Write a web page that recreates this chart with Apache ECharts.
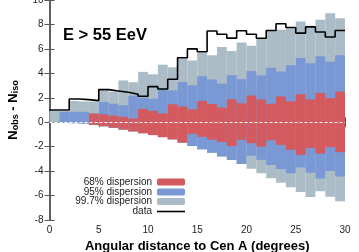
<!DOCTYPE html>
<html>
<head>
<meta charset="utf-8">
<script src="https://cdn.jsdelivr.net/npm/echarts@6/dist/echarts.min.js"></script>
<style>html,body{margin:0;padding:0;background:#fff}#c{width:359px;height:252px}</style>
</head>
<body>
<div id="c"></div>
<script>
// Bin edges (degrees)
const binStart = [0,1,2,3,4,5,6,7,8,9,10,11,12,13,14,15,16,17,18,19,20,21,22,23,24,25,26,27,28,29];
const binEnd   = [1,2,3,4,5,6,7,8,9,10,11,12,13,14,15,16,17,18,19,20,21,22,23,24,25,26,27,28,29,30];

// Observed N_obs - N_iso (step line)
const dataVals = [1.0,1.0,1.9,1.85,1.77,2.67,2.56,2.45,2.29,2.12,2.91,2.72,3.51,5.28,6.0,5.77,7.46,7.2,6.88,7.48,7.2,6.87,7.5,8.06,7.75,7.29,7.8,7.38,6.97,7.5];

// 68% dispersion band
const redHi = [null,null,null,null,0.71,0.65,0.54,0.44,0.3,1.09,0.93,0.71,1.47,1.29,1.05,1.74,1.49,1.2,1.88,1.55,2.19,1.86,1.5,2.11,1.71,2.29,1.86,2.39,1.97,2.5];
const redLo = [null,null,null,null,-0.22,-0.33,-0.45,-0.6,-0.75,-0.9,-1.05,-1.22,-1.4,-1.67,-0.95,-1.2,-1.43,-1.62,-1.95,-1.44,-1.72,-2.0,-1.48,-1.85,-2.25,-2.67,-2.12,-2.56,-2.04,-2.45];

// 95% dispersion band
const blueHi = [null,0.85,0.85,0.85,0.71,1.66,1.52,1.39,2.18,2.01,1.92,2.72,2.6,3.29,3.02,3.76,3.5,3.16,3.84,3.52,4.18,3.83,4.46,4.14,4.67,5.25,4.83,5.39,4.95,5.47];
const blueLo = [null,-0.04,-0.08,-0.12,-0.22,-0.33,-0.45,-0.6,-0.75,-0.9,-1.05,-1.22,-1.4,-1.67,-1.95,-2.22,-2.5,-2.8,-3.1,-3.42,-2.74,-3.08,-3.5,-3.82,-4.18,-3.7,-4.14,-4.6,-4.0,-4.45];

// 99.7% dispersion band
const greyHi = [0.92,0.92,1.74,1.7,1.7,2.6,2.5,3.42,3.27,4.12,3.92,4.71,4.49,5.2,5.06,5.69,5.47,6.15,5.82,6.53,6.25,6.85,7.46,7.56,7.68,8.25,7.9,8.38,8.92,8.5];
const greyLo = [-0.02,-0.04,-0.08,-0.12,-0.22,-0.33,-0.45,-0.6,-0.75,-0.9,-1.05,-1.22,-1.4,-1.67,-1.95,-2.22,-2.5,-2.8,-3.1,-3.42,-3.8,-4.17,-4.58,-4.95,-5.33,-5.7,-6.12,-5.65,-6.1,-6.47];

const xTicks = [0,5,10,15,20,25,30];
const yTicks = [-8,-6,-4,-2,0,2,4,6,8,10];

const FONT = "'Liberation Sans', Arial, sans-serif";
const C_RED = '#d35b5f', C_BLUE = '#7a98d4', C_GREY = '#abbcc6';

function bandData(lo, hi) {
  const out = [];
  for (let i = 0; i < binStart.length; i++) {
    if (lo[i] === null || hi[i] === null) continue;
    out.push([binStart[i], binEnd[i], lo[i], hi[i]]);
  }
  return out;
}
function bandSeries(name, color, lo, hi, z) {
  return {
    name, type: 'custom', z,
    itemStyle: { color },
    encode: { x: [0, 1], y: [2, 3] },
    data: bandData(lo, hi),
    renderItem(params, api) {
      const a = api.coord([api.value(0), api.value(3)]);
      const b = api.coord([api.value(1), api.value(2)]);
      return { type: 'rect', shape: { x: a[0], y: a[1], width: b[0] - a[0], height: b[1] - a[1] },
               style: { fill: color } };
    }
  };
}
const lineData = binStart.map((x, i) => [x, dataVals[i]]);
lineData.push([binEnd[binEnd.length - 1], dataVals[dataVals.length - 1]]);

const axisCol = '#555';
const legendRow = (name, top, opts) => Object.assign({
  data: [name], right: 174, top, align: 'right', orient: 'vertical',
  itemWidth: 28, itemHeight: 7, itemGap: 0, padding: 0,
  textStyle: { fontFamily: FONT, fontSize: 10, color: '#222', padding: [0, 0, 0, 0] },
  selectedMode: false
}, opts || {});

const chart = echarts.init(document.getElementById('c'), null, { renderer: 'canvas' });
chart.setOption({
  animation: false,
  backgroundColor: '#fff',
  title: { text: 'E > 55 EeV', left: 63, top: 27, padding: 0,
    textStyle: { fontFamily: FONT, fontSize: 16.5, fontWeight: 'bold', color: '#000' } },
  grid: { left: 49.5, right: 14, top: 0, bottom: 32, outerBoundsMode: 'none', containLabel: false },
  legend: [
    legendRow('68% dispersion', 177),
    legendRow('95% dispersion', 187),
    legendRow('99.7% dispersion', 196.5),
    legendRow('data', 206.5, { icon: 'rect', itemHeight: 1.6, itemStyle: { color: '#000' } })
  ],
  xAxis: [{
    type: 'value', min: 0, max: 30, interval: 5,
    name: 'Angular distance to Cen A (degrees)', nameLocation: 'middle', nameGap: 19,
    nameTextStyle: { fontFamily: FONT, fontSize: 13, fontWeight: 'bold', color: '#000' },
    axisLine: { show: true, lineStyle: { color: axisCol, width: 1.5 } },
    axisTick: { show: true, inside: true, length: 5, lineStyle: { color: axisCol, width: 1 } },
    axisLabel: { fontFamily: FONT, fontSize: 10, color: '#222', margin: 5,
      customValues: xTicks },
    splitLine: { show: false }
  }, {
    type: 'value', min: 0, max: 30, interval: 5, position: 'top',
    axisLine: { show: true, lineStyle: { color: axisCol, width: 1.5 } },
    axisTick: { show: true, inside: true, length: 5, lineStyle: { color: axisCol, width: 1 } },
    axisLabel: { show: false }, splitLine: { show: false }
  }],
  yAxis: [{
    type: 'value', min: -8, max: 10, interval: 2,
    name: 'N{sub|obs} - N{sub|iso}', nameLocation: 'middle', nameGap: 29, nameRotate: 90,
    nameTextStyle: { fontFamily: FONT, fontSize: 13, fontWeight: 'bold', color: '#000',
      rich: { sub: { fontFamily: FONT, fontSize: 9, fontWeight: 'bold', color: '#000', verticalAlign: 'bottom', padding: [6, 0, 0, 0] } } },
    axisLine: { show: true, lineStyle: { color: axisCol, width: 1.5 } },
    axisTick: { show: true, inside: true, length: 5, lineStyle: { color: axisCol, width: 1 } },
    axisLabel: { fontFamily: FONT, fontSize: 10, color: '#222', margin: 6, customValues: yTicks },
    splitLine: { show: false }
  }, {
    type: 'value', min: -8, max: 10, interval: 2, position: 'right',
    axisLine: { show: true, lineStyle: { color: axisCol, width: 1.5 } },
    axisTick: { show: true, inside: true, length: 5, lineStyle: { color: axisCol, width: 1 } },
    axisLabel: { show: false }, splitLine: { show: false }
  }],
  series: [
    bandSeries('99.7% dispersion', C_GREY, greyLo, greyHi, 1),
    bandSeries('95% dispersion', C_BLUE, blueLo, blueHi, 2),
    bandSeries('68% dispersion', C_RED, redLo, redHi, 3),
    {
      name: 'data', type: 'line', step: 'end', z: 5, data: lineData,
      symbol: 'none', itemStyle: { color: '#000' },
      lineStyle: { color: '#000', width: 1.6 },
      markLine: {
        silent: true, symbol: 'none', label: { show: false },
        lineStyle: { color: '#fff', type: [3, 2], width: 1 },
        data: [{ yAxis: 0 }]
      }
    }
  ]
});
</script>
</body>
</html>
